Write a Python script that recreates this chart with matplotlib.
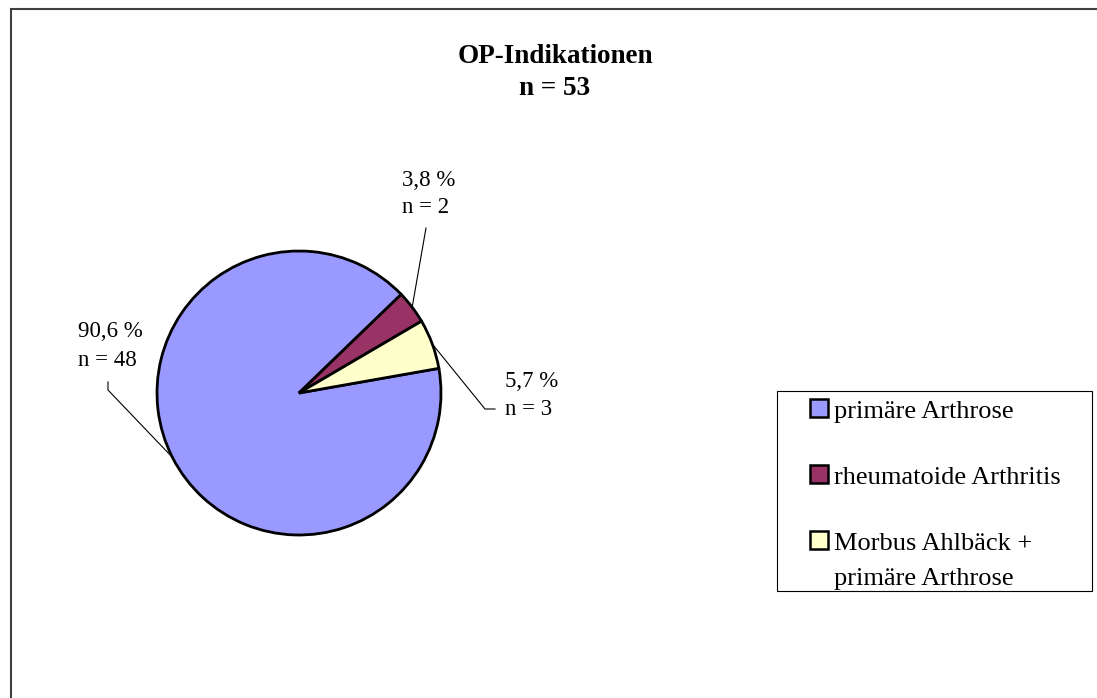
import matplotlib
matplotlib.use('Agg')
import matplotlib.pyplot as plt
import numpy as np
from matplotlib.patches import Rectangle

# ---- data ----
categories = ['primäre Arthrose', 'rheumatoide Arthritis', 'Morbus Ahlbäck +\nprimäre Arthrose']
counts = [48, 2, 3]
percent_labels = ['90,6 %', '3,8 %', '5,7 %']
n_labels = ['n = 48', 'n = 2', 'n = 3']
colors = ['#9999FF', '#993366', '#FFFFCC']
title = 'OP-Indikationen'
subtitle = 'n = 53'

plt.rcParams['font.family'] = ['Liberation Serif', 'DejaVu Serif']

W, H = 1097, 698
fig = plt.figure(figsize=(W / 100, H / 100), dpi=100)


def fx(px):
    return px / W


def fy(py):
    return 1 - py / H


# outer frame (only top/left visible in reference)
fig.patches.append(Rectangle((fx(11), fy(705)), fx(1110) - fx(11), (705 - 9) / H,
                             transform=fig.transFigure, fill=False,
                             edgecolor='#404040', linewidth=1.5, clip_on=False))

# pie axes
cx, cy, r = 299, 393, 142
m = 1.05
ax = fig.add_axes([fx(cx - r * m), fy(cy + r * m), 2 * r * m / W, 2 * r * m / H])
start = 10
wedges, _ = ax.pie(counts, colors=colors, startangle=start, counterclock=False, radius=1,
                   wedgeprops=dict(edgecolor='black', linewidth=2))
ax.set_xlim(-m, m)
ax.set_ylim(-m, m)
ax.axis('off')


def to_data(px, py):
    return (px - cx) / r, (cy - py) / r


# labels with leader lines
total = sum(counts)
cum = 0
elbows = [[(108, 390), (108, 382)], [(426, 228)], [(485, 409), (495, 409)]]
text_pos = [(78, 337, 366), (402, 186, 213), (505, 387, 415)]
for i, v in enumerate(counts):
    mid = np.deg2rad(start - 360 * (cum + v / 2) / total)
    cum += v
    xs = [np.cos(mid)]
    ys = [np.sin(mid)]
    for (px, py) in elbows[i]:
        dx, dy = to_data(px, py)
        xs.append(dx)
        ys.append(dy)
    ax.plot(xs, ys, color='black', linewidth=0.8, clip_on=False)
    tx, b1, b2 = text_pos[i]
    x1, y1 = to_data(tx, b1)
    _, y2 = to_data(tx, b2)
    ax.text(x1, y1, percent_labels[i], fontsize=16.5, ha='left', va='baseline')
    ax.text(x1, y2, n_labels[i], fontsize=16.5, ha='left', va='baseline')

# title
fig.text(fx(555), fy(63), title, ha='center', va='baseline', fontsize=19.5, fontweight='bold')
fig.text(fx(555), fy(95), subtitle, ha='center', va='baseline', fontsize=19.5, fontweight='bold')

# legend (drawn explicitly: square aligned with first text line, as in reference)
fig.patches.append(Rectangle((fx(777), fy(591)), fx(1092) - fx(777), (591 - 391) / H,
                             transform=fig.transFigure, fill=False,
                             edgecolor='black', linewidth=0.8))
sq_tops = [399, 465, 531]
line_gap = 35
for i, lab in enumerate(categories):
    top = sq_tops[i]
    fig.patches.append(Rectangle((fx(810), fy(top + 18)), 18 / W, 18 / H,
                                 transform=fig.transFigure, facecolor=colors[i],
                                 edgecolor='black', linewidth=1.8))
    for j, line in enumerate(lab.split('\n')):
        fig.text(fx(834), fy(top + 19 + j * line_gap), line, fontsize=19,
                 ha='left', va='baseline')

fig.savefig('out.png', dpi=100)
